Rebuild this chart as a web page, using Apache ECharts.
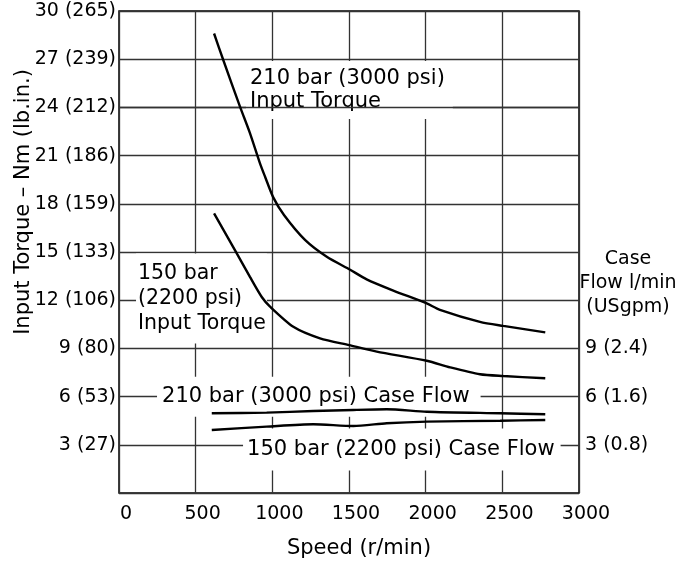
<!DOCTYPE html>
<html>
<head>
<meta charset="utf-8">
<script src="https://cdn.jsdelivr.net/npm/echarts@6/dist/echarts.min.js"></script>
<style>
  html, body { margin: 0; padding: 0; background: #fff; }
  #chart { width: 687px; height: 565px; }
</style>
</head>
<body>
<div id="chart"></div>
<script>
// tick labels (left: Nm (lb.in.), right: l/min (USgpm))
const torqueTickLabels = ['', '3 (27)', '6 (53)', '9 (80)', '12 (106)', '15 (133)', '18 (159)', '21 (186)', '24 (212)', '27 (239)', '30 (265)'];
const flowTickLabels = ['', '3 (0.8)', '6 (1.6)', '9 (2.4)'];

// 210 bar (3000 psi) input torque
const torque210Speed = [620, 680, 789, 854, 920, 952, 1006, 1076, 1213, 1355, 1507, 1615, 1789, 2007, 2093, 2354, 2506, 2780];
const torque210 = [28.6, 26.95, 24.05, 22.4, 20.5, 19.7, 18.4, 17.3, 15.75, 14.7, 13.9, 13.3, 12.6, 11.8, 11.4, 10.65, 10.4, 10.0];

// 150 bar (2200 psi) input torque
const torque150Speed = [620, 757, 854, 931, 985, 1137, 1311, 1502, 1681, 2007, 2159, 2354, 2506, 2780];
const torque150 = [17.4, 15.1, 13.45, 12.2, 11.6, 10.35, 9.63, 9.2, 8.8, 8.23, 7.82, 7.39, 7.28, 7.14];

// case flow curves
const flowSpeed = [605, 963, 1267, 1528, 1746, 2007, 2485, 2780];
const flow210 = [4.96, 5.0, 5.1, 5.17, 5.21, 5.06, 4.96, 4.9];
const flow150 = [3.92, 4.13, 4.28, 4.17, 4.34, 4.44, 4.5, 4.54];

const zip = (xs, ys) => xs.map((x, i) => [x, ys[i]]);

const font = 'DejaVu Sans';

// curve captions, anchored at the left-middle of their white box
const captions = [
  { text: '210 bar (3000 psi)\nInput Torque', at: [828, 25.08], size: 21, lineHeight: 23, padding: [3, 8, 9, 4] },
  { text: '150 bar\n(2200 psi)\nInput Torque', at: [111, 12.11], size: 20.5, lineHeight: 25, padding: [7, 1, 8, 2] },
  { text: '210 bar (3000 psi) Case Flow', at: [248, 5.99], size: 21, lineHeight: 24, padding: [9, 11, 7, 5] },
  { text: '150 bar (2200 psi) Case Flow', at: [809, 2.71], size: 21, lineHeight: 24, padding: [9, 6, 9, 4] }
];

const chart = echarts.init(document.getElementById('chart'));

const curve = (data, extra) => Object.assign({
  type: 'line',
  data: data,
  z: 5,
  showSymbol: false,
  smooth: 0.25,
  silent: true,
  lineStyle: { color: '#000', width: 2.4 }
}, extra || {});

const option = {
  animation: false,
  backgroundColor: '#fff',
  grid: {
    left: 119, right: 108, top: 11, bottom: 72,
    show: true, borderColor: '#000', borderWidth: 1.5,
    outerBoundsMode: 'none'
  },
  xAxis: {
    type: 'value',
    min: 0, max: 3000, interval: 500,
    axisLine: { show: false },
    axisTick: { show: false },
    splitLine: { show: true, lineStyle: { color: '#333', width: 1.3 } },
    axisLabel: {
      color: '#000', fontFamily: font, fontSize: 19, margin: 12,
      padding: [0, 0, 0, 14], showMinLabel: true, showMaxLabel: true,
      formatter: v => String(v)
    },
    name: 'Speed (r/min)',
    nameLocation: 'middle',
    nameGap: 45,
    nameTextStyle: { color: '#000', fontFamily: font, fontSize: 21, padding: [0, 0, 0, 20] }
  },
  yAxis: [
    {
      type: 'value',
      min: 0, max: 30, interval: 3,
      axisLine: { show: false },
      axisTick: { show: false },
      splitLine: { show: true, lineStyle: { color: '#333', width: 1.3 } },
      axisLabel: {
        color: '#000', fontFamily: font, fontSize: 19, margin: 3,
        formatter: v => torqueTickLabels[Math.round(v / 3)] || ''
      }
    },
    {
      type: 'value',
      position: 'right',
      min: 0, max: 30, interval: 3,
      axisLine: { show: false },
      axisTick: { show: false },
      splitLine: { show: false },
      axisLabel: {
        color: '#000', fontFamily: font, fontSize: 19, margin: 6,
        formatter: v => flowTickLabels[Math.round(v / 3)] || ''
      }
    }
  ],
  graphic: [
    {
      type: 'text', x: 24, y: 202, rotation: Math.PI / 2,
      style: {
        text: 'Input Torque – Nm (lb.in.)', fill: '#000',
        font: '21px "DejaVu Sans"', textAlign: 'center', textVerticalAlign: 'middle'
      }
    },
    {
      type: 'text', x: 628, y: 247,
      style: {
        text: 'Case\nFlow l/min\n(USgpm)', fill: '#000',
        font: '19px "DejaVu Sans"', lineHeight: 24,
        textAlign: 'center', textVerticalAlign: 'top'
      }
    }
  ],
  series: [
    {
      type: 'scatter',
      z: 3,
      silent: true,
      symbolSize: 0,
      itemStyle: { opacity: 1 },
      data: captions.map(c => ({
        value: c.at,
        label: {
          show: true,
          position: 'right',
          distance: 0,
          formatter: c.text,
          align: 'left',
          color: '#000',
          opacity: 1,
          fontFamily: font,
          fontSize: c.size,
          lineHeight: c.lineHeight,
          backgroundColor: '#fff',
          padding: c.padding
        }
      }))
    },
    curve(zip(torque210Speed, torque210), {
      markLine: {
        silent: true, symbol: 'none', animation: false,
        label: { show: false },
        lineStyle: { color: '#333', width: 1.3, type: 'solid' },
        data: [{ yAxis: 24 }]
      }
    }),
    curve(zip(torque150Speed, torque150)),
    curve(zip(flowSpeed, flow210)),
    curve(zip(flowSpeed, flow150))
  ]
};

chart.setOption(option);
window.addEventListener('resize', chart.resize);
</script>
</body>
</html>
